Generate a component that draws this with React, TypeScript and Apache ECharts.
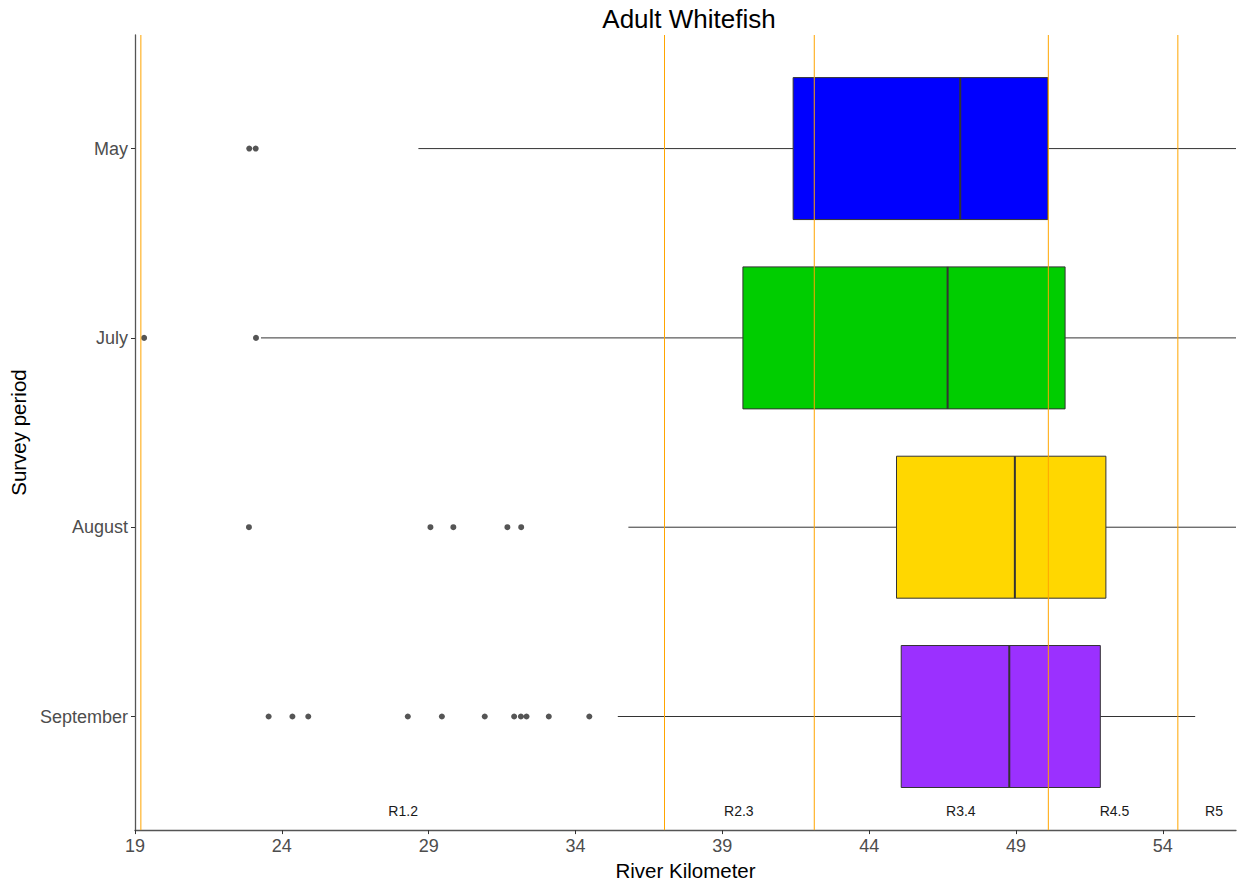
import React, { useEffect, useRef } from "react";
import * as echarts from "echarts";

// ---- data ----
const months = ["September", "August", "July", "May"]; // y positions 1..4
const monthPos = [1, 2, 3, 4];
const whiskerLow = [35.44, 35.8, 23.29, 28.65];
const q1 = [45.09, 44.93, 39.7, 41.41];
const median = [48.77, 48.96, 46.67, 47.1];
const q3 = [51.87, 52.06, 50.67, 50.08];
const whiskerHigh = [55.1, 57.5, 57.5, 57.5];
const boxColors = ["#9B30FF", "#FFD700", "#00CD00", "#0000FF"];

const septemberOutliers = [23.55, 24.36, 24.9, 28.29, 29.45, 30.91, 31.91, 32.14, 32.33, 33.09, 34.47];
const augustOutliers = [22.88, 29.06, 29.84, 31.68, 32.15];
const julyOutliers = [19.31, 23.12];
const mayOutliers = [22.89, 23.11];

const regionLines = [19.2, 37.03, 42.13, 50.1, 54.51];
const regionLabels = ["R1.2", "R2.3", "R3.4", "R4.5", "R5"];
const regionLabelX = [28.13, 39.56, 47.12, 52.35, 55.74];
const regionLabelY = 0.5;

const xTicks = [19, 24, 29, 34, 39, 44, 49, 54];
const xMin = 19;
const xMax = 56.49;
const yMin = 0.4;
const yMax = 4.6;
const boxHalf = 0.375;

const FONT = "'Liberation Sans', Arial, sans-serif";

export default function App() {
  const ref = useRef<HTMLDivElement>(null);

  useEffect(() => {
    if (!ref.current) return;
    const chart = echarts.init(ref.current, null, { renderer: "svg" });

    const boxData = monthPos.map((y, i) => [y, whiskerLow[i], q1[i], median[i], q3[i], whiskerHigh[i]]);
    const outlierData: number[][] = [];
    [septemberOutliers, augustOutliers, julyOutliers, mayOutliers].forEach((arr, i) => {
      arr.forEach((v) => outlierData.push([v, monthPos[i]]));
    });

    const option: any = {
      animation: false,
      backgroundColor: "#ffffff",
      textStyle: { fontFamily: FONT },
      grid: { left: 135, right: 7, top: 35, bottom: 51, containLabel: false },
      graphic: [
        {
          type: "text",
          x: 689,
          y: 19,
          style: {
            text: "Adult Whitefish",
            fontSize: 26,
            fontFamily: FONT,
            fill: "#000",
            textAlign: "center",
            textVerticalAlign: "middle",
            align: "center",
            verticalAlign: "middle",
          },
        },
      ],
      xAxis: {
        type: "value",
        min: xMin,
        max: xMax,
        name: "River Kilometer",
        nameLocation: "middle",
        nameGap: 27,
        nameTextStyle: { fontSize: 20.5, color: "#000", fontFamily: FONT, verticalAlign: "top" },
        axisLine: { show: true, onZero: false, lineStyle: { color: "#555", width: 1.3 } },
        axisTick: { show: true, length: 4, customValues: xTicks, lineStyle: { color: "#333" } },
        axisLabel: { customValues: xTicks, fontSize: 18, color: "#4D4D4D", margin: 7, fontFamily: FONT },
        splitLine: { show: false },
      },
      yAxis: {
        type: "value",
        min: yMin,
        max: yMax,
        name: "Survey period",
        nameLocation: "middle",
        nameGap: 102,
        nameRotate: 90,
        nameTextStyle: { fontSize: 20.5, color: "#000", fontFamily: FONT },
        axisLine: { show: true, onZero: false, lineStyle: { color: "#555", width: 1.3 } },
        axisTick: { show: true, length: 4, customValues: monthPos, lineStyle: { color: "#333" } },
        axisLabel: {
          customValues: monthPos,
          fontSize: 18,
          color: "#4D4D4D",
          margin: 7,
          fontFamily: FONT,
          formatter: (v: number) => {
            const idx = monthPos.indexOf(Math.round(v));
            return idx >= 0 ? months[idx] : "";
          },
        },
        splitLine: { show: false },
      },
      series: [
        {
          type: "custom",
          name: "boxes",
          data: boxData,
          encode: { x: [1, 2, 3, 4, 5], y: 0 },
          z: 2,
          renderItem: (params: any, api: any) => {
            const y = api.value(0);
            const cs = params.coordSys;
            const xRight = cs.x + cs.width;
            const pLo = api.coord([api.value(1), y]);
            const pQ1 = api.coord([api.value(2), y]);
            const pMed = api.coord([api.value(3), y]);
            const pQ3 = api.coord([api.value(4), y]);
            const pHi = api.coord([api.value(5), y]);
            const top = api.coord([api.value(2), y + boxHalf])[1];
            const bot = api.coord([api.value(2), y - boxHalf])[1];
            const color = boxColors[params.dataIndex];
            return {
              type: "group",
              children: [
                {
                  type: "line",
                  shape: { x1: Math.max(pLo[0], cs.x), y1: pLo[1], x2: pQ1[0], y2: pQ1[1] },
                  style: { stroke: "#333", lineWidth: 1 },
                },
                {
                  type: "line",
                  shape: { x1: pQ3[0], y1: pQ3[1], x2: Math.min(pHi[0], xRight), y2: pHi[1] },
                  style: { stroke: "#333", lineWidth: 1 },
                },
                {
                  type: "rect",
                  shape: { x: pQ1[0], y: top, width: pQ3[0] - pQ1[0], height: bot - top },
                  style: { fill: color, stroke: "#333", lineWidth: 1 },
                },
                {
                  type: "line",
                  shape: { x1: pMed[0], y1: top, x2: pMed[0], y2: bot },
                  style: { stroke: "#333", lineWidth: 2 },
                },
              ],
            };
          },
        },
        {
          type: "scatter",
          name: "outliers",
          data: outlierData,
          symbol: "circle",
          symbolSize: 6,
          itemStyle: { color: "#2b2b2b" },
          z: 3,
        },
        {
          type: "custom",
          name: "regionLines",
          data: regionLines.map((v) => [v, yMin]),
          encode: { x: 0, y: 1 },
          z: 4,
          renderItem: (params: any, api: any) => {
            const cs = params.coordSys;
            const p = api.coord([api.value(0), api.value(1)]);
            return {
              type: "line",
              shape: { x1: p[0], y1: cs.y, x2: p[0], y2: cs.y + cs.height },
              style: { stroke: "#FFA500", lineWidth: 1 },
            };
          },
        },
        {
          type: "custom",
          name: "regionLabels",
          data: regionLabelX.map((v, i) => [v, regionLabelY, i]),
          encode: { x: 0, y: 1 },
          z: 5,
          renderItem: (params: any, api: any) => {
            const p = api.coord([api.value(0), api.value(1)]);
            return {
              type: "text",
              x: p[0],
              y: p[1],
              style: {
                text: regionLabels[params.dataIndex],
                fontSize: 14,
                fontFamily: FONT,
                fill: "#1a1a1a",
                textAlign: "center",
                textVerticalAlign: "middle",
                align: "center",
                verticalAlign: "middle",
              },
            };
          },
        },
      ],
    };

    chart.setOption(option);
    return () => chart.dispose();
  }, []);

  return (
    <div
      ref={ref}
      style={{ position: "fixed", left: 0, top: 0, width: 1243, height: 886, background: "#fff" }}
    />
  );
}
